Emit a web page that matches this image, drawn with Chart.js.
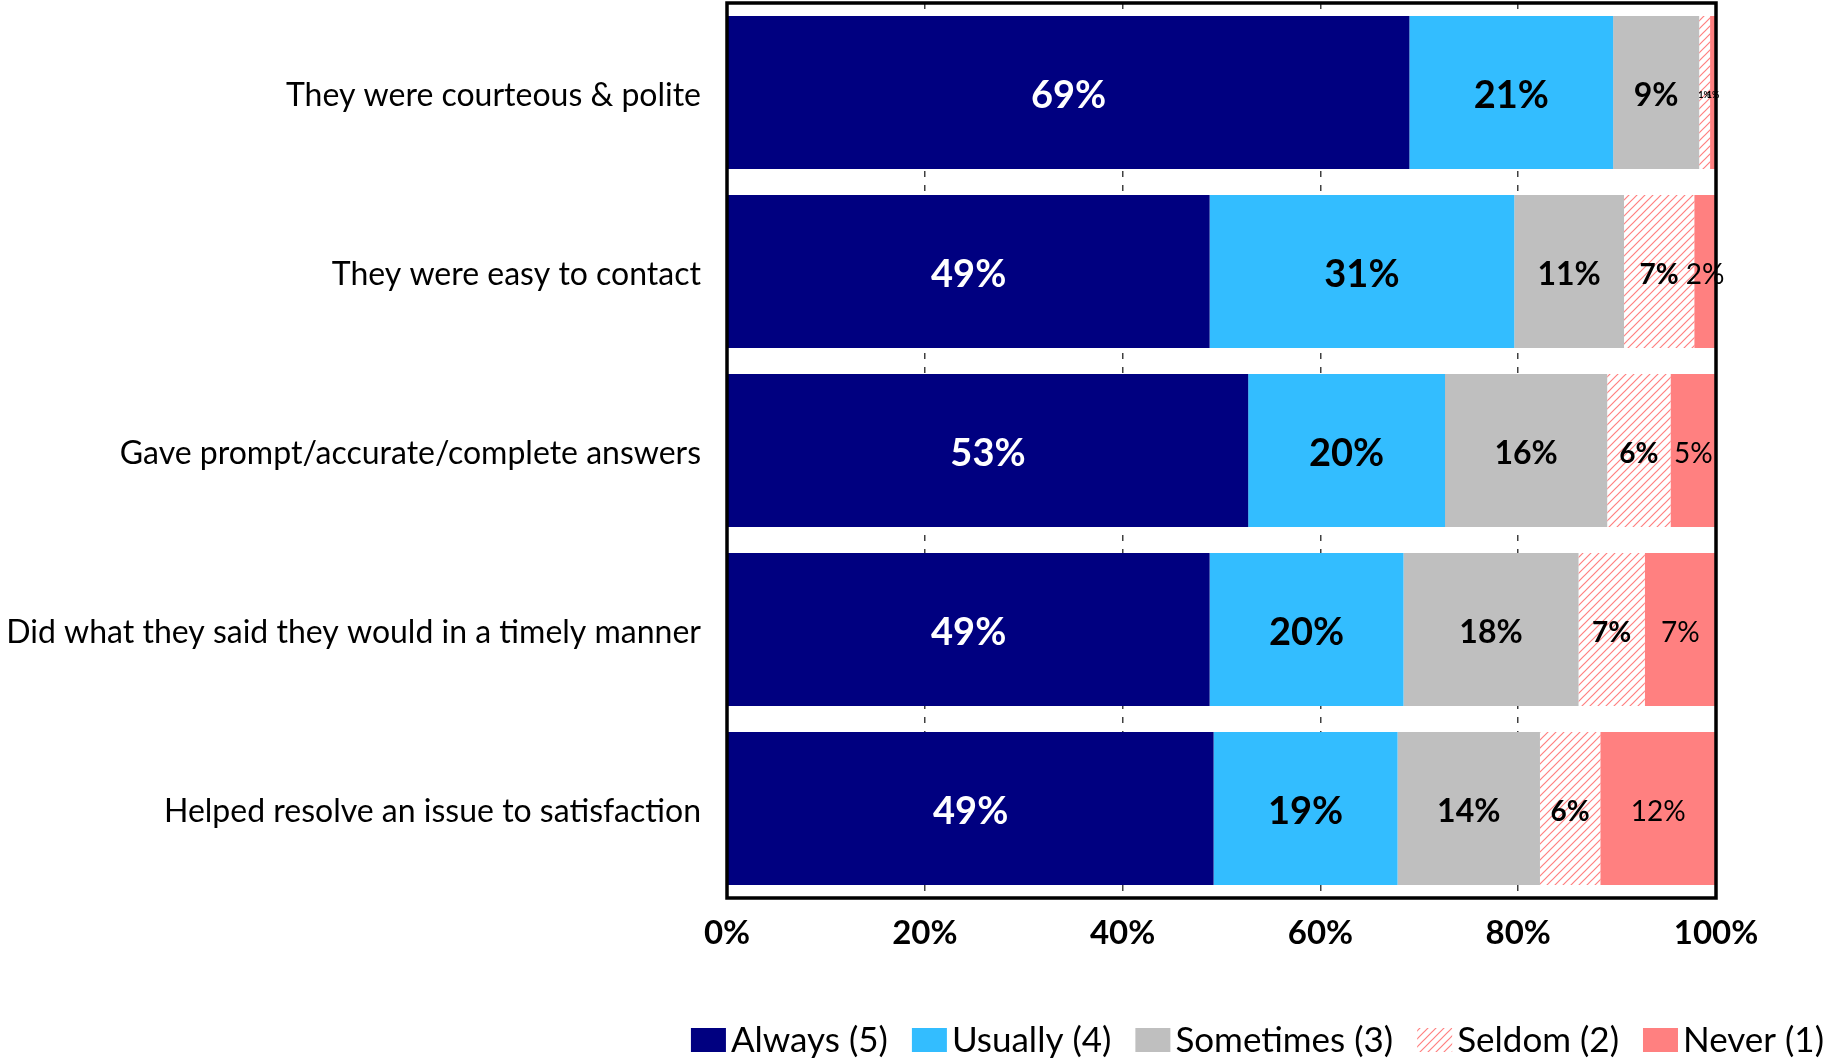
<!DOCTYPE html>
<html>
<head>
<meta charset="utf-8">
<title>Staff contact ratings</title>
<script src="https://cdn.jsdelivr.net/npm/chart.js@4.4.0/dist/chart.umd.min.js"></script>
<style>
  html, body { margin: 0; padding: 0; background: #ffffff; }
  #wrap { width: 1827px; height: 1063px; position: relative; }
</style>
</head>
<body>
<div id="wrap"><canvas id="c" width="1827" height="1063"></canvas></div>
<script>
// ---- data ----
const categories = [
  'They were courteous & polite',
  'They were easy to contact',
  'Gave prompt/accurate/complete answers',
  'Did what they said they would in a timely manner',
  'Helped resolve an issue to satisfaction'
];
const seriesNames = ['Always (5)', 'Usually (4)', 'Sometimes (3)', 'Seldom (2)', 'Never (1)'];
const always    = [69.0, 48.8, 52.7, 48.8, 49.2];
const usually   = [20.6, 30.8, 19.9, 19.6, 18.6];
const sometimes = [8.7, 11.1, 16.4, 17.7, 14.4];
const seldom    = [1.1, 7.1, 6.4, 6.7, 6.1];
const never     = [0.6, 2.2, 4.6, 7.2, 11.7];
const tickValues = [0, 20, 40, 60, 80, 100];

// ---- styling ----
const FONT = 'Lato';
const canvas = document.getElementById('c');
const ctx = canvas.getContext('2d');

function makeHatch() {
  const s = 8;
  const p = document.createElement('canvas');
  p.width = s; p.height = s;
  const g = p.getContext('2d');
  g.fillStyle = '#ffffff';
  g.fillRect(0, 0, s, s);
  g.strokeStyle = '#ff8080';
  g.lineWidth = 1.2;
  g.beginPath();
  g.moveTo(0, s); g.lineTo(s, 0);
  g.moveTo(-s / 2, s / 2); g.lineTo(s / 2, -s / 2);
  g.moveTo(s / 2, s + s / 2); g.lineTo(s + s / 2, s / 2);
  g.stroke();
  return ctx.createPattern(p, 'repeat');
}
const hatch = makeHatch();

const fills = ['#000080', '#33bdff', '#bfbfbf', hatch, '#ff8080'];
const labelStyles = [
  { color: '#ffffff', size: 38, weight: 'bold' },
  { color: '#000000', size: 38, weight: 'bold' },
  { color: '#000000', size: 32, weight: 'bold' },
  { color: '#000000', size: 28, weight: 'bold' },
  { color: '#000000', size: 28, weight: 'normal' }
];
const seriesValues = [always, usually, sometimes, seldom, never];

const datasets = seriesNames.map((name, i) => ({
  label: name,
  data: seriesValues[i],
  backgroundColor: fills[i],
  borderWidth: 0,
  barPercentage: 0.855,
  categoryPercentage: 1.0
}));

// value labels centred in each segment
const segmentLabels = {
  id: 'segmentLabels',
  afterDraw(chart) {
    const c = chart.ctx;
    c.save();
    c.textAlign = 'center';
    c.textBaseline = 'middle';
    chart.data.datasets.forEach((ds, di) => {
      const meta = chart.getDatasetMeta(di);
      const st = labelStyles[di];
      meta.data.forEach((el, i) => {
        const v = ds.data[i];
        const w = Math.abs(el.x - el.base);
        const small = w < 16;
        const size = small ? 9 : st.size;
        const weight = small ? 'bold' : st.weight;
        c.font = `${weight} ${size}px ${FONT}`;
        c.fillStyle = st.color;
        c.fillText(Math.round(v) + '%', (el.x + el.base) / 2, el.y + 3);
      });
    });
    c.restore();
  }
};

// thick frame round the plot area
const plotFrame = {
  id: 'plotFrame',
  afterDatasetsDraw(chart) {
    const a = chart.chartArea;
    const c = chart.ctx;
    c.save();
    c.strokeStyle = '#000000';
    c.lineWidth = 3.5;
    c.strokeRect(a.left, a.top, a.right - a.left, a.bottom - a.top);
    c.restore();
  }
};

// legend row along the bottom, right aligned
const bottomLegend = {
  id: 'bottomLegend',
  afterDraw(chart) {
    const c = chart.ctx;
    const boxW = 35, boxH = 24, gapText = 5, gapItem = 24;
    const rightEdge = 1824, cy = 1040;
    c.save();
    c.font = `normal 35px ${FONT}`;
    c.textBaseline = 'middle';
    c.textAlign = 'left';
    const items = chart.data.datasets.map(ds => ({ text: ds.label, fill: ds.backgroundColor, w: c.measureText(ds.label).width }));
    const total = items.reduce((s, it) => s + boxW + gapText + it.w, 0) + gapItem * (items.length - 1);
    let x = rightEdge - total;
    items.forEach(it => {
      c.fillStyle = it.fill;
      c.fillRect(x, cy - boxH / 2, boxW, boxH);
      c.fillStyle = '#000000';
      c.fillText(it.text, x + boxW + gapText, cy + 1);
      x += boxW + gapText + it.w + gapItem;
    });
    c.restore();
  }
};

new Chart(ctx, {
  type: 'bar',
  data: { labels: categories, datasets },
  options: {
    indexAxis: 'y',
    responsive: false,
    animation: false,
    devicePixelRatio: 1,
    layout: { padding: { top: 3, right: 111, left: 0, bottom: 0 } },
    plugins: { legend: { display: false }, tooltip: { enabled: false } },
    scales: {
      x: {
        stacked: true,
        min: 0,
        max: 100,
        afterBuildTicks: s => { s.ticks = tickValues.map(v => ({ value: v })); },
        ticks: {
          callback: v => v + '%',
          font: { family: FONT, size: 33, weight: 'bold' },
          color: '#000000',
          padding: 16,
          maxRotation: 0,
          autoSkip: false
        },
        grid: {
          drawTicks: false,
          lineWidth: 1.5,
          color: c => (c.tick && (c.tick.value === 0 || c.tick.value === 100)) ? 'rgba(0,0,0,0)' : '#404040'
        },
        border: { display: false, dash: [6, 8] },
        afterFit: s => { s.height = 165; s.paddingLeft = 0; s.paddingRight = 0; }
      },
      y: {
        stacked: true,
        ticks: { font: { family: FONT, size: 32 }, color: '#000000', padding: 26, labelOffset: 3 },
        grid: { display: false, drawTicks: false },
        border: { display: false },
        afterFit: s => { s.width = 727; s.paddingTop = 0; s.paddingBottom = 0; }
      }
    }
  },
  plugins: [plotFrame, segmentLabels, bottomLegend]
});
</script>
</body>
</html>
